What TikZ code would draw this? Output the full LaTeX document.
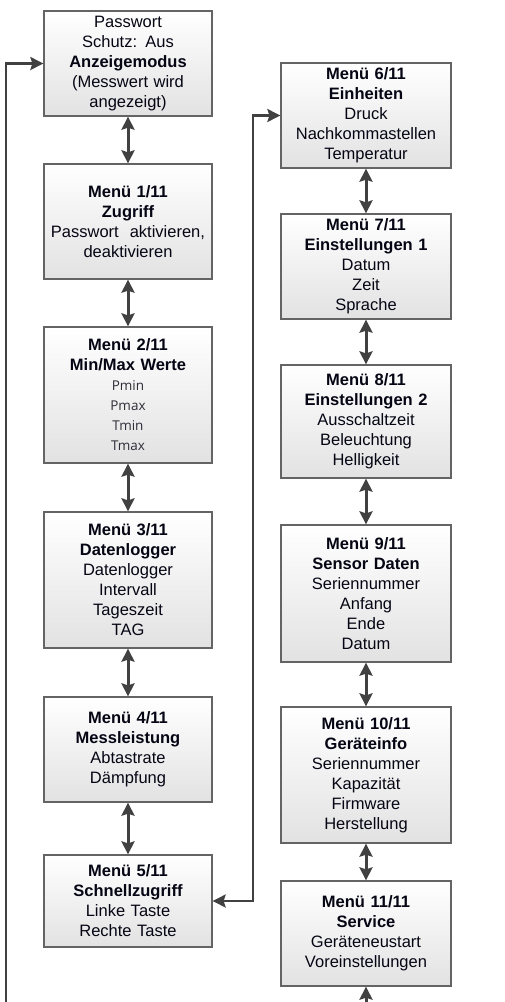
\documentclass[tikz,border=0pt]{standalone}
\usepackage{fontspec}
\setmainfont{Liberation Sans}
\newfontfamily\smallfam{Open Sans}
\usetikzlibrary{arrows.meta}
\definecolor{txt}{RGB}{5,5,20}
\definecolor{frame}{RGB}{100,100,100}
\definecolor{conn}{RGB}{65,65,65}
\definecolor{boxbot}{RGB}{226,226,226}
\definecolor{subtxt}{RGB}{45,45,55}
\tikzset{
  menubox/.style={draw=frame, line width=1.3pt, top color=white, bottom color=boxbot,
    align=center, inner sep=0pt, text=txt,
    font=\fontsize{16.5}{20}\selectfont},
  lbox/.style={menubox, minimum width=168pt, text width=166pt},
  rbox/.style={menubox, minimum width=170pt, text width=168pt},
  dbl/.style={draw=conn, line width=3pt, {Stealth[length=13pt,width=13pt,inset=2pt]}-{Stealth[length=13pt,width=13pt,inset=2pt]}},
  arr/.style={draw=conn, line width=2.3pt, -{Stealth[length=13pt,width=13pt,inset=2pt]}},
  dblloop/.style={draw=conn, line width=2.3pt, {Stealth[length=13pt,width=13pt,inset=2pt]}-{Stealth[length=13pt,width=13pt,inset=2pt]}}
}
\newcommand{\sm}[1]{{\smallfam\fontsize{13.5}{20}\selectfont\color{subtxt}#1}}
\begin{document}
\begin{tikzpicture}[x=1pt,y=-1pt]
\useasboundingbox (0,0) rectangle (505,1002);
% left column
\node[lbox, minimum height=105pt] (top) at (128,63.5) {Passwort\\Schutz: Aus\\\textbf{Anzeigemodus}\\(Messwert wird\\angezeigt)};
\node[lbox, minimum height=115pt] (m1) at (128,221.5) {\textbf{Menü 1/11}\\\textbf{Zugriff}\\Passwort\ \ aktivieren,\\deaktivieren};
\node[lbox, minimum height=136pt] (m2) at (128,395) {\textbf{Menü 2/11}\\\textbf{Min/Max Werte}\\\sm{Pmin}\\\sm{Pmax}\\\sm{Tmin}\\\sm{Tmax}};
\node[lbox, minimum height=136pt] (m3) at (128,580) {\textbf{Menü 3/11}\\\textbf{Datenlogger}\\Datenlogger\\Intervall\\Tageszeit\\TAG};
\node[lbox, minimum height=105pt] (m4) at (128,749.5) {\textbf{Menü 4/11}\\\textbf{Messleistung}\\Abtastrate\\Dämpfung};
\node[lbox, minimum height=92pt] (m5) at (128,901) {\textbf{Menü 5/11}\\\textbf{Schnellzugriff}\\Linke Taste\\Rechte Taste};
% right column
\node[rbox, minimum height=105pt] (m6) at (366,115.5) {\textbf{Menü 6/11}\\\textbf{Einheiten}\\Druck\\Nachkommastellen\\Temperatur};
\node[rbox, minimum height=105pt] (m7) at (366,266.5) {\textbf{Menü 7/11}\\\textbf{Einstellungen 1}\\Datum\\Zeit\\Sprache};
\node[rbox, minimum height=113pt] (m8) at (366,421.5) {\textbf{Menü 8/11}\\\textbf{Einstellungen 2}\\Ausschaltzeit\\Beleuchtung\\Helligkeit};
\node[rbox, minimum height=137pt] (m9) at (366,593.5) {\textbf{Menü 9/11}\\\textbf{Sensor Daten}\\Seriennummer\\Anfang\\Ende\\Datum};
\node[rbox, minimum height=136pt] (m10) at (366,775) {\textbf{Menü 10/11}\\\textbf{Geräteinfo}\\Seriennummer\\Kapazität\\Firmware\\Herstellung};
\node[rbox, minimum height=105pt] (m11) at (366,933.5) {\textbf{Menü 11/11}\\\textbf{Service}\\Geräteneustart\\Voreinstellungen};
% connectors
\draw[dbl] (top.south) -- (m1.north);
\draw[dbl] (m1.south) -- (m2.north);
\draw[dbl] (m2.south) -- (m3.north);
\draw[dbl] (m3.south) -- (m4.north);
\draw[dbl] (m4.south) -- (m5.north);
\draw[dbl] (m6.south) -- (m7.north);
\draw[dbl] (m7.south) -- (m8.north);
\draw[dbl] (m8.south) -- (m9.north);
\draw[dbl] (m9.south) -- (m10.north);
\draw[dbl] (m10.south) -- (m11.north);
\coordinate (lb) at (6,1003);
\coordinate (rx) at (253,0);
\coordinate (b11) at (366,1003);
\draw[arr] (lb) |- (top.west);
\draw[dblloop] (m5.east) -| (rx |- m6.west) -- (m6.west);
\draw[arr, line width=3pt] (b11) -- (m11.south);
\end{tikzpicture}
\end{document}
